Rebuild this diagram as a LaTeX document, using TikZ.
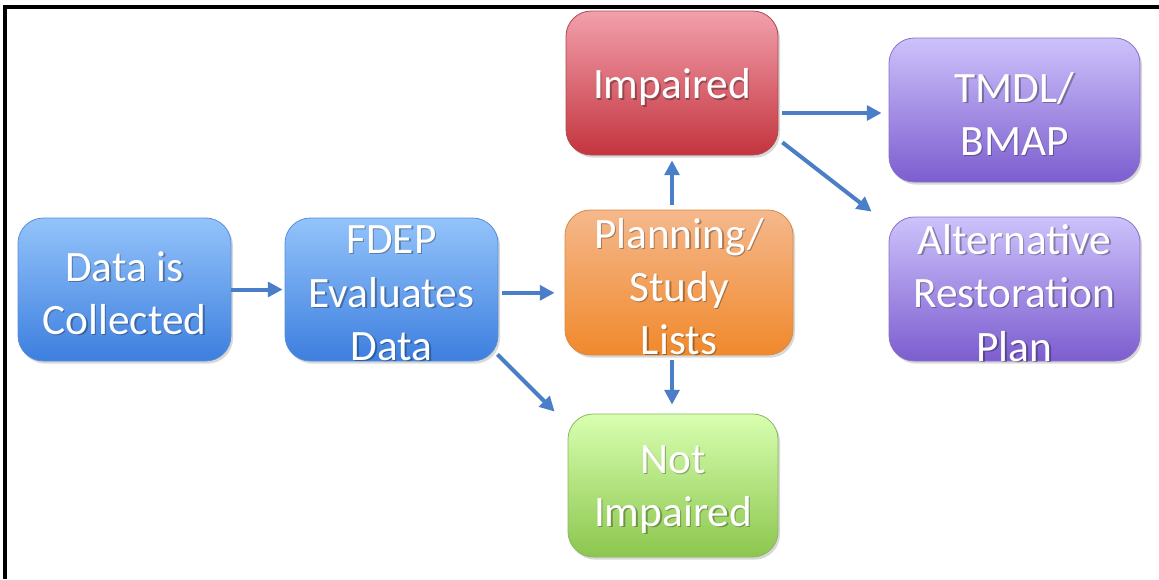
\documentclass[tikz,border=0pt]{standalone}
\usepackage{fontspec}
\setmainfont{Carlito}
\usetikzlibrary{arrows.meta,shadows}
\definecolor{bluetop}{HTML}{93C3FA}
\definecolor{bluebot}{HTML}{3D7FDF}
\definecolor{blueline}{HTML}{5A8FD8}
\definecolor{redtop}{HTML}{F2A0AC}
\definecolor{redbot}{HTML}{C3343E}
\definecolor{redline}{HTML}{B04850}
\definecolor{ortop}{HTML}{F5B88C}
\definecolor{orbot}{HTML}{F0892C}
\definecolor{orline}{HTML}{D98A45}
\definecolor{grtop}{HTML}{D8FFB0}
\definecolor{grbot}{HTML}{8CC64E}
\definecolor{grline}{HTML}{8AB860}
\definecolor{putop}{HTML}{CDC2FB}
\definecolor{pubot}{HTML}{7C5DCF}
\definecolor{puline}{HTML}{8A72C8}
\definecolor{arrowblue}{HTML}{4A7EC8}
\tikzset{
  x=0.75pt, y=-0.75pt,
  box/.style n args={3}{rounded corners=19pt, top color=#1, bottom color=#2, draw=#3,
    line width=0.6pt, drop shadow={shadow xshift=1.5pt, shadow yshift=-2pt, opacity=0.3}},
  txt/.style={text=white, align=center, inner sep=0pt, font=\fontsize{32.5}{40}\selectfont},
  txtsh/.style={txt, text=black, text opacity=0.3},
  arr/.style={draw=arrowblue, line width=3pt, -{Triangle[length=11pt,width=11pt]}},
}
\begin{document}
\begin{tikzpicture}
\useasboundingbox (0,0) rectangle (1159,579);
\fill[white] (0,0) rectangle (1159,579);
% frame (top and left edges)
\draw[line width=2.4pt, black] (5,579) -- (5,7) -- (1159,7);

% boxes
\node[box={bluetop}{bluebot}{blueline}, minimum width=159.75pt, minimum height=107.25pt] (data) at (124.5,289.5) {};
\node[box={bluetop}{bluebot}{blueline}, minimum width=159.75pt, minimum height=107.25pt] (fdep) at (391.5,289.5) {};
\node[box={ortop}{orbot}{orline}, minimum width=171pt, minimum height=108.75pt] (plan) at (679,282.5) {};
\node[box={redtop}{redbot}{redline}, minimum width=159pt, minimum height=108pt] (imp) at (672,83) {};
\node[box={grtop}{grbot}{grline}, minimum width=157.5pt, minimum height=107.25pt] (notimp) at (673,485.5) {};
\node[box={putop}{pubot}{puline}, minimum width=188.25pt, minimum height=108pt] (tmdl) at (1014.5,110) {};
\node[box={putop}{pubot}{puline}, minimum width=188.25pt, minimum height=108pt] (alt) at (1014.5,289) {};

% text shadows
\node[txtsh] (datas) at ([shift={(1.5,5)}]data) {Data is\\Collected};
\node[txtsh] (fdeps) at ([shift={(1.5,5)}]fdep) {FDEP\\Evaluates\\Data};
\node[txtsh] (plans) at ([shift={(1.5,5)}]plan) {Planning/\\Study\\Lists};
\node[txtsh] (imps) at ([shift={(1.5,6)}]imp) {Impaired};
\node[txtsh] (notimps) at ([shift={(1.5,5)}]notimp) {Not\\Impaired};
\node[txtsh] (tmdls) at ([shift={(1.5,5)}]tmdl) {TMDL/\\BMAP};
\node[txtsh] (alts) at ([shift={(1.5,5)}]alt) {Alternative\\Restoration\\Plan};
% texts
\node[txt] (datat) at ([yshift=-3pt]data) {Data is\\Collected};
\node[txt] (fdept) at ([yshift=-3pt]fdep) {FDEP\\Evaluates\\Data};
\node[txt] (plant) at ([yshift=-3pt]plan) {Planning/\\Study\\Lists};
\node[txt] (impt) at ([yshift=-3pt]imp) {Impaired};
\node[txt] (notimpt) at ([yshift=-3pt]notimp) {Not\\Impaired};
\node[txt] (tmdlt) at ([yshift=-3pt]tmdl) {TMDL/\\BMAP};
\node[txt] (altt) at ([yshift=-3pt]alt) {Alternative\\Restoration\\Plan};

% helper coordinates
\coordinate (pbot) at (imp.south |- plan.south);
\coordinate (ntop) at (imp.south |- notimp.north);
\coordinate (ptop) at (imp.south |- plan.north);

% arrows
\draw[arr, shorten >=1.5pt] (data.east) -- (fdep.west);
\draw[arr, shorten <=3pt, shorten >=7.5pt] ([yshift=-2.5pt]fdep.east) -- ([yshift=-2.5pt]fdep.east -| plan.west);
\draw[arr] ([shift={(-1,-7)}]fdep.south east) -- ([shift={(-13,-2)}]notimp.north west);
\draw[arr, shorten <=3.75pt, shorten >=3.75pt] (ptop) -- (imp.south);
\draw[arr, shorten <=3.75pt, shorten >=6.75pt] (pbot) -- (ntop);
\draw[arr] ([shift={(4,30)}]imp.east) -- ([shift={(-7,3)}]tmdl.west);
\draw[arr] ([shift={(4,-13)}]imp.south east) -- ([shift={(-17,-5)}]alt.north west);
\end{tikzpicture}
\end{document}
